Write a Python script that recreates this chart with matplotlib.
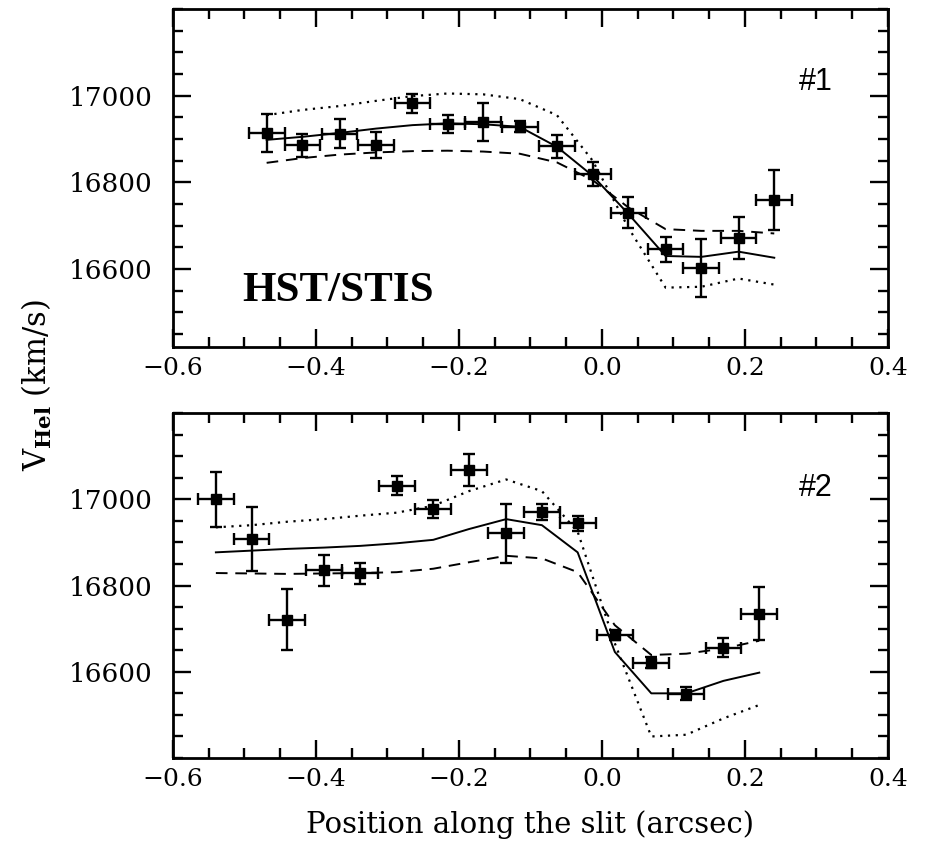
import matplotlib
matplotlib.use("Agg")
import matplotlib.pyplot as plt
from matplotlib.ticker import FixedLocator, MultipleLocator

# slit #1 measurements
x1 = [-0.469, -0.419, -0.367, -0.316, -0.265, -0.216, -0.166, -0.115,
      -0.063, -0.013, 0.037, 0.089, 0.139, 0.191, 0.241]
v1 = [16914, 16885, 16912, 16885, 16982, 16934, 16940, 16928,
      16883, 16820, 16730, 16645, 16602, 16671, 16759]
e1 = [44, 26, 33, 30, 21, 21, 44, 13, 27, 28, 35, 29, 67, 49, 69]
solid1 = [16898, 16905, 16914, 16924, 16932, 16936, 16934, 16928,
          16882, 16815, 16727, 16630, 16628, 16640, 16626]
dashed1 = [16845, 16856, 16864, 16869, 16872, 16873, 16871, 16866,
           16846, 16805, 16742, 16692, 16688, 16688, 16682]
dotted1 = [16955, 16967, 16976, 16988, 16999, 17005, 17003, 16992,
           16955, 16850, 16695, 16557, 16559, 16578, 16564]

# slit #2 measurements
x2 = [-0.540, -0.490, -0.440, -0.389, -0.338, -0.287, -0.236, -0.186,
      -0.134, -0.084, -0.034, 0.018, 0.069, 0.118, 0.170, 0.220]
v2 = [17000, 16908, 16721, 16835, 16828, 17032, 16977, 17068,
      16921, 16971, 16944, 16685, 16621, 16549, 16656, 16735]
e2 = [64, 74, 71, 35, 25, 22, 21, 36, 69, 18, 17, 12, 13, 15, 22, 62]
solid2 = [16877, 16881, 16885, 16888, 16892, 16898, 16906, 16931,
          16954, 16940, 16877, 16646, 16550, 16550, 16579, 16598]
dashed2 = [16829, 16828, 16827, 16828, 16829, 16831, 16839, 16854,
           16869, 16863, 16831, 16708, 16639, 16642, 16654, 16672]
dotted2 = [16935, 16940, 16948, 16954, 16962, 16969, 16985, 17019,
           17046, 17019, 16925, 16666, 16450, 16454, 16492, 16523]

y_major = [16600, 16800, 17000]
slit_halfwidth = 0.025

plt.rcParams["font.family"] = ["DejaVu Serif"]
plt.rcParams["mathtext.fontset"] = "dejavuserif"

fig = plt.figure(figsize=(9.26, 8.48), dpi=100)
ax_top = fig.add_axes([0.1868, 0.5908, 0.7721, 0.3986])
ax_bot = fig.add_axes([0.1868, 0.1061, 0.7721, 0.4068])


def draw_panel(ax, x, v, e, solid, dashed, dotted, ylim, tag):
    ax.plot(x, solid, color="black", lw=1.4, ls="-")
    ax.plot(x, dashed, color="black", lw=1.4, ls=(0, (6, 4)))
    ax.plot(x, dotted, color="black", lw=1.6, ls=(0, (1, 2.5)))
    ax.errorbar(x, v, yerr=e, xerr=slit_halfwidth, fmt="s", color="black",
                ms=6.5, elinewidth=1.7, capsize=4.5, capthick=1.7, zorder=5)
    ax.set_xlim(-0.6, 0.4)
    ax.set_ylim(*ylim)
    ax.xaxis.set_major_locator(MultipleLocator(0.2))
    ax.xaxis.set_minor_locator(MultipleLocator(0.05))
    ax.yaxis.set_major_locator(FixedLocator(y_major))
    ax.yaxis.set_minor_locator(MultipleLocator(50))
    ax.tick_params(which="both", direction="in", top=True, right=True, width=1.7)
    ax.tick_params(which="major", length=13)
    ax.tick_params(which="minor", length=7)
    ax.tick_params(axis="x", labelsize=18, pad=7)
    ax.tick_params(axis="y", labelsize=19, pad=15)
    for sp in ax.spines.values():
        sp.set_linewidth(2.0)
    ax.text(0.876, 0.76, tag, transform=ax.transAxes, fontsize=22,
            family="Liberation Sans", ha="left", va="baseline")


draw_panel(ax_top, x1, v1, e1, solid1, dashed1, dotted1, (16420, 17200), "#1")
draw_panel(ax_bot, x2, v2, e2, solid2, dashed2, dotted2, (16400, 17200), "#2")

ax_top.text(0.0965, 0.135, "HST/STIS", transform=ax_top.transAxes, fontsize=31,
            family="Liberation Serif", weight="bold", ha="left", va="baseline")

ax_bot.set_xlabel("Position along the slit (arcsec)", fontsize=21, labelpad=14)
fig.text(0.04, 0.546, r"V$_{\mathbf{Hel}}$ (km/s)", rotation=90, fontsize=22,
         ha="center", va="center")

fig.savefig("out.png", dpi=100)
plt.close(fig)
